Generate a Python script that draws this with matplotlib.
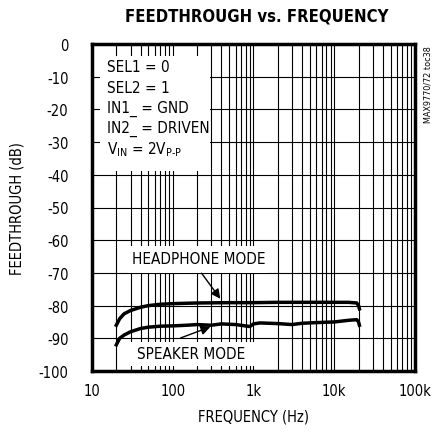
import matplotlib
matplotlib.use('Agg')
import matplotlib.pyplot as plt
from matplotlib.patches import Rectangle
from matplotlib.ticker import FixedLocator, NullFormatter

plt.rcParams['font.family'] = ['DejaVu Sans']
plt.rcParams['font.stretch'] = 'condensed'
plt.rcParams['mathtext.fontset'] = 'custom'
plt.rcParams['mathtext.rm'] = 'DejaVu Sans:stretch=condensed'

# headphone mode curve
hp_freq = [20, 22, 25, 30, 40, 50, 70, 100, 200, 500, 1000, 2000, 5000, 10000, 15000, 19000, 20000, 20500]
hp_db = [-86, -84, -82.5, -81.5, -80.5, -80, -79.6, -79.4, -79.2, -79.1, -79.1, -79, -79, -79, -79, -79.2, -80, -81]

# speaker mode curve
sp_freq = [20, 22, 25, 30, 40, 50, 70, 100, 150, 200, 300, 400, 600, 900, 1000, 1200, 2000, 3000,
           4000, 6000, 10000, 15000, 19000, 20000, 20500]
sp_db = [-92, -90, -89, -88, -87, -86.6, -86.3, -86.2, -86, -85.8, -86, -85.6, -85.8, -86.4, -85.6,
         -85.3, -85.5, -85.8, -85.4, -85.2, -85, -84.5, -84.3, -85, -86]

x_ticks = [10, 100, 1000, 10000, 100000]
x_labels = ['10', '100', '1k', '10k', '100k']
y_ticks = list(range(-100, 1, 10))

fig = plt.figure(figsize=(4.35, 4.35), dpi=100)
ax = fig.add_axes([92 / 435, 1 - 372 / 435, 323 / 435, 327 / 435])

ax.set_xscale('log')
ax.set_xlim(10, 100000)
ax.set_ylim(-100, 0)
ax.set_xticks(x_ticks)
ax.set_xticklabels(x_labels)
minor = [m * d for d in [10, 100, 1000, 10000] for m in range(2, 10)]
ax.xaxis.set_minor_locator(FixedLocator(minor))
ax.xaxis.set_minor_formatter(NullFormatter())
ax.set_yticks(y_ticks)
ax.set_yticklabels([str(v) for v in y_ticks])
ax.tick_params(which='both', length=0, labelsize=10.5)
ax.tick_params(axis='x', pad=9)
ax.tick_params(axis='y', pad=17)
ax.grid(True, which='both', axis='x', color='black', lw=0.8, zorder=1)
ax.grid(True, which='major', axis='y', color='black', lw=0.8, zorder=1)
ax.set_axisbelow(True)
for s in ax.spines.values():
    s.set_linewidth(2.5)

ax.plot(hp_freq, hp_db, color='black', lw=2.5, zorder=4)
ax.plot(sp_freq, sp_db, color='black', lw=2.5, zorder=4)

# white boxes hiding the grid behind the labels
for (x0, y0, w, h) in [(0.025, 0.612, 0.34, 0.351), (0.111, 0.300, 0.434, 0.082), (0.118, 0.015, 0.387, 0.074)]:
    ax.add_patch(Rectangle((x0, y0), w, h, transform=ax.transAxes, facecolor='white',
                           edgecolor='none', zorder=2))

lines = ['SEL1 = 0', 'SEL2 = 1', 'IN1_ = GND', 'IN2_ = DRIVEN', r'V$_{\rm IN}$ = 2V$_{\rm P\text{-}P}$']
for i, t in enumerate(lines):
    ax.text(0.046, 0.93 - i * 0.0625, t, transform=ax.transAxes, fontsize=11,
            va='center', ha='left', zorder=3)

ax.text(211, -65.7, 'HEADPHONE MODE', fontsize=11, ha='center', va='center', zorder=3)
ax.text(168, -94.8, 'SPEAKER MODE', fontsize=11, ha='center', va='center', zorder=3)

ax.annotate('', xy=(407, -78.6), xytext=(217, -69.4),
            arrowprops=dict(arrowstyle='-|>', color='black', lw=1, mutation_scale=14), zorder=5)
ax.annotate('', xy=(315, -86.2), xytext=(116, -90.2),
            arrowprops=dict(arrowstyle='-|>', color='black', lw=1, mutation_scale=14), zorder=5)

ax.set_xlabel('FREQUENCY (Hz)', fontsize=10.5, labelpad=7)
ax.set_ylabel('FEEDTHROUGH (dB)', fontsize=10.5, labelpad=10)
fig.text(257 / 435, 1 - 17 / 435, 'FEEDTHROUGH vs. FREQUENCY', fontsize=12, fontweight='heavy',
         ha='center', va='center')
fig.text(428 / 435, 1 - 85 / 435, 'MAX9770/72 toc38', fontsize=6.5, rotation=90,
         ha='center', va='center')

fig.savefig('out.png', dpi=100)
